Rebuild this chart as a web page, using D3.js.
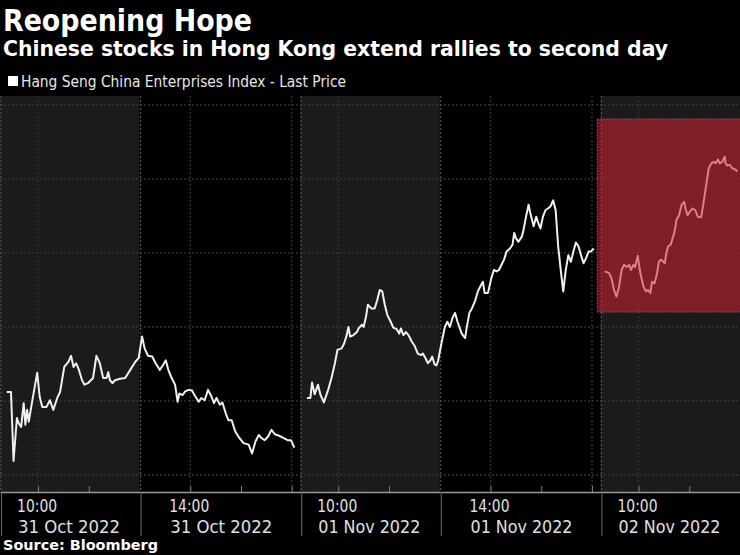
<!DOCTYPE html>
<html><head><meta charset="utf-8">
<script src="https://cdn.jsdelivr.net/npm/d3@7"></script>
<style>
html,body{margin:0;padding:0;background:#000;}
svg{display:block;}
</style></head>
<body>
<svg id="chart" width="740" height="555"></svg>
<script>
// ---------------- DATA ----------------
const title = "Reopening Hope";
const subtitle = "Chinese stocks in Hong Kong extend rallies to second day";
const legendLabel = "Hang Seng China Enterprises Index - Last Price";
const sourceText = "Source: Bloomberg";

const dayLabels = ["31 Oct 2022", "01 Nov 2022", "02 Nov 2022"];
const sessionHours = {amOpen: "09:15", amClose: "12:00", pmOpen: "13:00", pmClose: "16:10"};
const gridHours = ["10:00", "14:00", "16:00"];
const minorTickHours = ["10:00", "11:00", "14:00", "15:00", "16:00"];
const labelHours = ["10:00", "14:00"];
const yGridValues = [4800, 4900, 5000, 5100, 5200, 5300];
const yDomain = [4777, 5312];

const oct31Times = ["09:23","09:28","09:31","09:35","09:37","09:40","09:43","09:45","09:47","09:49",
 "09:53","09:59","10:02","10:05","10:10","10:14","10:18","10:23","10:26","10:31",
 "10:36","10:39","10:42","10:45","10:48","10:52","10:55","10:59","11:05","11:09",
 "11:13","11:17","11:21","11:23","11:25","11:28","11:31","11:37","11:43","11:49",
 "11:55","11:59",
 "13:01","13:03","13:06","13:10","13:15","13:19","13:24","13:28","13:31","13:34",
 "13:38","13:42","13:45","13:47","13:51","13:54","13:58","14:02","14:06","14:10",
 "14:13","14:17","14:21","14:25","14:28","14:31","14:35","14:38","14:42","14:45",
 "14:49","14:53","14:58","15:03","15:09","15:13","15:17","15:21","15:24","15:28",
 "15:32","15:36","15:40","15:45","15:50","15:55","15:59","16:03"];
const oct31Values = [4912,4912,4819,4877,4870,4865,4897,4868,4888,4872,
 4899,4938,4905,4892,4892,4901,4888,4905,4912,4946,
 4953,4961,4946,4951,4943,4928,4922,4924,4931,4961,
 4951,4931,4931,4939,4928,4924,4928,4930,4931,4942,
 4953,4958,
 4973,4987,4971,4961,4960,4951,4942,4949,4955,4942,
 4931,4922,4899,4910,4908,4913,4915,4914,4906,4899,
 4904,4901,4915,4906,4897,4904,4895,4898,4883,4874,
 4874,4859,4850,4843,4841,4829,4845,4854,4850,4847,
 4852,4861,4855,4853,4850,4847,4847,4837];

const nov01Times = ["09:23","09:27","09:29","09:32","09:36","09:39","09:43","09:48","09:52","09:56",
 "09:59","10:04","10:07","10:10","10:12","10:14","10:18","10:22","10:24","10:28",
 "10:30","10:33","10:35","10:39","10:43","10:46","10:49","10:52","10:55","10:58",
 "11:02","11:05","11:09","11:12","11:14","11:17","11:20","11:23","11:27","11:30",
 "11:34","11:38","11:40","11:43","11:46","11:49","11:51","11:54","11:56","11:58",
 "13:02","13:06","13:09","13:12","13:15","13:18","13:21","13:26","13:30","13:32",
 "13:35","13:38","13:42","13:45","13:49","13:51","13:53","13:57","14:01","14:04",
 "14:07","14:10","14:13","14:16","14:19","14:23","14:26","14:28","14:30","14:33",
 "14:37","14:39","14:42","14:45","14:47","14:51","14:54","14:56","14:59","15:02",
 "15:05","15:08","15:11","15:14","15:17","15:20","15:23","15:26","15:29","15:32",
 "15:35","15:38","15:41","15:44","15:47","15:50","15:53","15:56","15:59","16:02"];
const nov01Values = [4904,4904,4925,4909,4922,4908,4898,4915,4931,4951,
 4969,4971,4978,4989,5000,4987,4989,4993,4998,5003,
 5000,5015,5030,5025,5025,5036,5050,5048,5030,5016,
 5007,4999,4997,4991,4998,4989,4993,4989,4980,4975,
 4964,4962,4964,4958,4951,4955,4960,4949,4948,4954,
 4978,5000,5007,5000,5012,5019,5007,4991,4985,5000,
 5019,5025,5036,5048,5057,5061,5046,5046,5066,5077,
 5075,5077,5084,5091,5102,5106,5111,5127,5120,5115,
 5122,5131,5149,5165,5154,5136,5149,5142,5133,5149,
 5158,5160,5163,5171,5158,5109,5077,5048,5077,5097,
 5088,5102,5114,5109,5097,5086,5093,5102,5102,5106];

const nov02Times = ["09:20","09:25","09:28","09:31","09:34","09:37","09:40","09:43","09:46","09:49",
 "09:51","09:54","09:56","09:59","10:01","10:03","10:06","10:09","10:11","10:14",
 "10:16","10:19","10:22","10:24","10:27","10:31","10:33","10:35","10:38","10:41",
 "10:43","10:45","10:48","10:51","10:54","10:56","10:58","11:01","11:04","11:07",
 "11:10","11:14","11:15","11:18","11:21","11:23","11:26","11:29","11:31","11:34",
 "11:36","11:39","11:42","11:43","11:45","11:48","11:51","11:54","11:57"];
const nov02Values = [5075,5073,5066,5050,5041,5054,5077,5084,5081,5084,
 5077,5084,5081,5096,5081,5068,5054,5048,5050,5046,
 5061,5059,5073,5088,5091,5086,5100,5109,5111,5122,
 5131,5145,5151,5165,5169,5158,5151,5156,5160,5158,
 5149,5148,5154,5176,5199,5214,5221,5223,5221,5226,
 5221,5223,5230,5221,5218,5219,5214,5213,5210];

// highlighted region (day 3)
const highlightDay = 2;
const highlightTimes = ["09:11", "12:00"];
const highlightValues = [5020, 5281];

// ---------------- HELPERS ----------------
const toMin = s => { const [h, m] = s.split(":").map(Number); return h * 60 + m; };
const amOpen = toMin(sessionHours.amOpen), amClose = toMin(sessionHours.amClose);
const pmOpen = toMin(sessionHours.pmOpen), pmClose = toMin(sessionHours.pmClose);
const amLen = amClose - amOpen, pmLen = pmClose - pmOpen, dayLen = amLen + pmLen;
// compressed trading-time (lunch break and overnight removed)
function tt(day, hhmm) {
  const m = toMin(hhmm);
  const base = day * dayLen;
  if (m < pmOpen - 30) return base + (m - amOpen);
  return base + amLen + (m - pmOpen);
}

const W = 740, H = 555;
const plotTop = 96, plotBottom = 492;
const svg = d3.select("#chart");
const FONT = "'DejaVu Sans Condensed','DejaVu Sans',sans-serif";

svg.append("rect").attr("width", W).attr("height", H).attr("fill", "#000");

const x = d3.scaleLinear().domain([0, 2 * dayLen + amLen]).range([0, W]);
const y = d3.scaleLinear().domain(yDomain).range([plotBottom, plotTop]);

// ---------------- BANDS (morning sessions grey) ----------------
const sessions = [];
dayLabels.forEach((d, i) => {
  sessions.push({day: i, start: tt(i, sessionHours.amOpen), end: tt(i, sessionHours.amClose), am: true});
  sessions.push({day: i, start: tt(i, sessionHours.pmOpen), end: tt(i, sessionHours.pmClose), am: false});
});
const visSessions = sessions.filter(s => s.start < x.domain()[1]);

svg.append("g").selectAll("rect").data(visSessions.filter(s => s.am)).join("rect")
  .attr("x", d => x(d.start)).attr("width", d => Math.min(x(d.end), W) - x(d.start))
  .attr("y", plotTop).attr("height", plotBottom - plotTop)
  .attr("fill", "#1b1b1b");

// ---------------- GRIDLINES ----------------
const gGrid = svg.append("g");
gGrid.selectAll("line.h").data(yGridValues).join("line")
  .attr("x1", 0).attr("x2", W).attr("y1", d => y(d)).attr("y2", d => y(d))
  .attr("stroke", "#363636").attr("stroke-width", 1.3).attr("stroke-dasharray", "2,2");

const vGrid = [];
dayLabels.forEach((d, i) => gridHours.forEach(h => { const v = tt(i, h); if (v <= x.domain()[1]) vGrid.push(v); }));
gGrid.selectAll("line.v").data(vGrid).join("line")
  .attr("x1", d => x(d)).attr("x2", d => x(d)).attr("y1", plotTop).attr("y2", plotBottom)
  .attr("stroke", "#313131").attr("stroke-width", 1.3).attr("stroke-dasharray", "2,2");

// session boundary dotted lines
gGrid.selectAll("line.s").data(visSessions).join("line")
  .attr("x1", d => x(d.start) + 1).attr("x2", d => x(d.start) + 1).attr("y1", plotTop).attr("y2", plotBottom)
  .attr("stroke", "#505050").attr("stroke-width", 1.2).attr("stroke-dasharray", "2,2");

// ---------------- LINE ----------------
const series = [
  {day: 0, times: oct31Times, values: oct31Values},
  {day: 1, times: nov01Times, values: nov01Values},
  {day: 2, times: nov02Times, values: nov02Values}
];
const line = d3.line().x(d => x(d.t)).y(d => y(d.v)).curve(d3.curveLinear);
series.forEach(s => {
  const n = Math.min(s.times.length, s.values.length);
  const pts = d3.range(n).map(i => ({t: tt(s.day, s.times[i]), v: s.values[i]}));
  svg.append("path").datum(pts).attr("d", line)
    .attr("fill", "none").attr("stroke", "#f0f0f0").attr("stroke-width", 2)
    .attr("stroke-linejoin", "round");
});

// ---------------- HIGHLIGHT ----------------
const hx0 = x(tt(highlightDay, highlightTimes[0]));
svg.append("rect")
  .attr("x", hx0).attr("width", W + 10 - hx0)
  .attr("y", y(highlightValues[1])).attr("height", y(highlightValues[0]) - y(highlightValues[1]))
  .attr("fill", "rgb(205,32,52)").attr("fill-opacity", 0.55)
  .attr("stroke", "rgb(235,110,120)").attr("stroke-opacity", 0.6)
  .attr("stroke-width", 1).attr("stroke-dasharray", "1.5,1.5");

// ---------------- AXIS ----------------
const minorTicks = [];
dayLabels.forEach((d, i) => minorTickHours.forEach(h => { const v = tt(i, h); if (v <= x.domain()[1]) minorTicks.push(v); }));
const axisG = svg.append("g").attr("transform", `translate(0,${plotBottom})`);
axisG.call(d3.axisBottom(x).tickValues(minorTicks).tickSize(-6).tickSizeOuter(0).tickFormat(""));
axisG.select(".domain").attr("stroke", "#9a9a9a").attr("stroke-width", 1.5);
axisG.selectAll(".tick line").attr("stroke", "#7a7a7a");

const majorG = svg.append("g").attr("transform", `translate(0,${plotBottom})`);
majorG.call(d3.axisBottom(x).tickValues(visSessions.map(s => s.start)).tickSize(44).tickSizeOuter(0).tickFormat(""));
majorG.select(".domain").remove();
majorG.selectAll(".tick line").attr("stroke", "#6a6a6a").attr("transform", "translate(1,0)");

const labels = [];
dayLabels.forEach((d, i) => labelHours.forEach(h => { const v = tt(i, h); if (v <= x.domain()[1]) labels.push({v, h, d}); }));
const lg = svg.append("g").attr("font-family", FONT).attr("fill", "#e0e0e0").attr("font-size", 17);
lg.selectAll("text.t").data(labels).join("text")
  .attr("x", d => x(d.v) - 21).attr("y", 512).text(d => d.h)
  .attr("textLength", 40).attr("lengthAdjust", "spacingAndGlyphs");
lg.selectAll("text.d").data(labels).join("text")
  .attr("x", d => x(d.v) - 20).attr("y", 533).text(d => d.d)
  .attr("textLength", 102).attr("lengthAdjust", "spacingAndGlyphs");

// ---------------- TITLES ----------------
svg.append("text").attr("x", 3).attr("y", 31).text(title)
  .attr("font-family", FONT).attr("font-weight", "bold").attr("font-size", 30).attr("fill", "#fff")
  .attr("textLength", 249).attr("lengthAdjust", "spacingAndGlyphs");
svg.append("text").attr("x", 3).attr("y", 56).text(subtitle)
  .attr("font-family", FONT).attr("font-weight", "bold").attr("font-size", 22).attr("fill", "#fff")
  .attr("textLength", 665).attr("lengthAdjust", "spacingAndGlyphs");

svg.append("rect").attr("x", 8).attr("y", 76).attr("width", 10).attr("height", 10).attr("fill", "#fff");
svg.append("text").attr("x", 21).attr("y", 87).text(legendLabel)
  .attr("font-family", FONT).attr("font-size", 15).attr("fill", "#e6e6e6")
  .attr("textLength", 325).attr("lengthAdjust", "spacingAndGlyphs");

svg.append("text").attr("x", 3).attr("y", 550).text(sourceText)
  .attr("font-family", FONT).attr("font-weight", "bold").attr("font-size", 14).attr("fill", "#fff")
  .attr("textLength", 155).attr("lengthAdjust", "spacingAndGlyphs");
</script>
</body></html>
